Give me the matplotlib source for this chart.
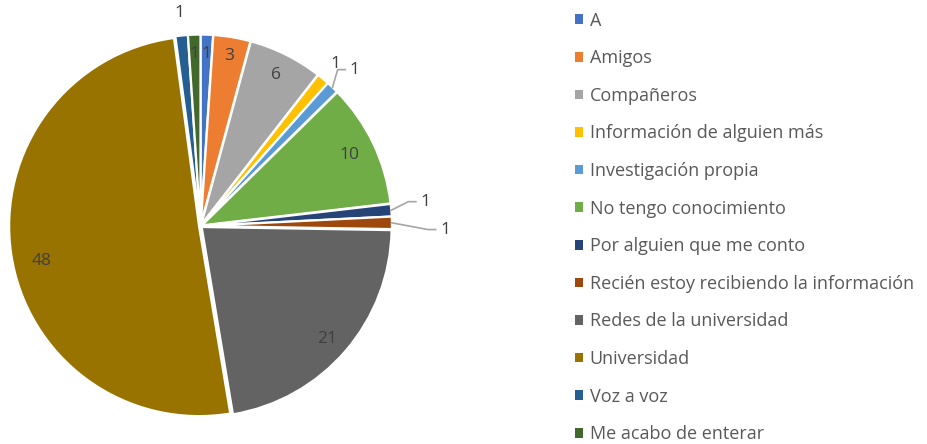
import numpy as np
import matplotlib.pyplot as plt
from matplotlib.patches import Patch

plt.rcParams['font.family'] = ['Open Sans', 'DejaVu Sans']

categories = ["A", "Amigos", "Compañeros", "Información de alguien más",
              "Investigación propia", "No tengo conocimiento",
              "Por alguien que me conto", "Recién estoy recibiendo la información",
              "Redes de la universidad", "Universidad", "Voz a voz",
              "Me acabo de enterar"]
values = [1, 3, 6, 1, 1, 10, 1, 1, 21, 48, 1, 1]
colors = ["#4472C4", "#ED7D31", "#A5A5A5", "#FFC000", "#5B9BD5", "#70AD47",
          "#264478", "#9E480E", "#636363", "#997300", "#255E91", "#43682B"]

# label radius (fraction of pie radius), vertical nudge, leader line flag
label_r = [0.90, 0.90, 0.88, 1.10, 1.17, 0.86, 1.18, 1.28, 0.87, 0.84, 1.12, 0.90]
label_dy = [0, 0, 0, 0, -0.03, 0, 0.03, -0.04, -0.02, -0.06, 0, 0]
leader = [False, False, False, False, True, False, True, True, False, False, False, False]

fig = plt.figure(figsize=(9.28, 4.44), dpi=100)
ax = fig.add_axes([0.0093, 0.059, 0.4136, 0.864])

wedges, _ = ax.pie(values, colors=colors, startangle=90, counterclock=False,
                   explode=[0.008] * len(values),
                   wedgeprops=dict(edgecolor="white", linewidth=1.6))
ax.set_aspect("equal")

for w, v, r, dy, lead in zip(wedges, values, label_r, label_dy, leader):
    ang = np.deg2rad((w.theta1 + w.theta2) / 2)
    cx, cy = w.center
    x, y = cx + r * np.cos(ang), cy + r * np.sin(ang) + dy
    if lead:
        x0, y0 = cx + 1.0 * np.cos(ang), cy + 1.0 * np.sin(ang)
        ax.plot([x0, x - 0.09, x - 0.05],
                [y0, y, y], color="#A6A6A6", lw=1.2, clip_on=False)
    ax.text(x, y, str(v), ha="center", va="center", fontsize=12.5,
            color="#404040")

ax.set_xlim(-1.01, 1.01)
ax.set_ylim(-1.01, 1.01)

handles = [Patch(facecolor=c, edgecolor="none") for c in colors]
leg = fig.legend(handles, categories, loc="upper left",
                 bbox_to_anchor=(0.612, 0.99), frameon=False,
                 fontsize=13, labelspacing=1.085, handlelength=0.45,
                 handleheight=0.45, handletextpad=0.35, borderaxespad=0.0)
for t in leg.get_texts():
    t.set_color("#595959")

fig.savefig("out.png", dpi=100)
